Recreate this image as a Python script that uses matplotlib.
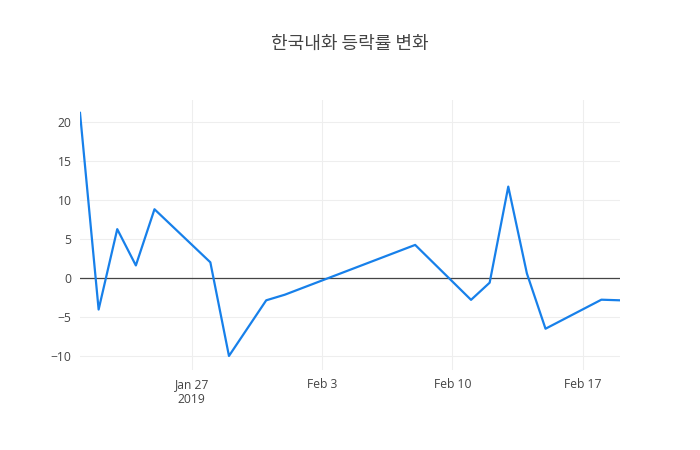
import matplotlib
matplotlib.use('Agg')
import matplotlib.pyplot as plt
import numpy as np

# 데이터
dates = ['2019-01-21', '2019-01-22', '2019-01-23', '2019-01-24', '2019-01-25',
         '2019-01-28', '2019-01-29', '2019-01-31', '2019-02-01',
         '2019-02-08', '2019-02-11', '2019-02-12', '2019-02-13', '2019-02-14',
         '2019-02-15', '2019-02-18', '2019-02-19']
rates = [21.2, -4.0, 6.3, 1.65, 8.85,
         2.05, -9.95, -2.82, -2.1,
         4.28, -2.76, -0.56, 11.75, 0.62,
         -6.46, -2.74, -2.82]
tick_dates = ['2019-01-27', '2019-02-03', '2019-02-10', '2019-02-17']
tick_labels = ['Jan 27\n2019', 'Feb 3', 'Feb 10', 'Feb 17']
y_ticks = [-10, -5, 0, 5, 10, 15, 20]

x = np.array(dates, dtype='datetime64[D]')
xt = np.array(tick_dates, dtype='datetime64[D]')

fig = plt.figure(figsize=(7, 4.5), dpi=100)
ax = fig.add_axes([80 / 700, 80 / 450, 540 / 700, 270 / 450])

# 등락률 선 + 0 기준선
ax.plot(x, rates, color='#1780ea', linewidth=1.6, zorder=3)
ax.axhline(0, color='#444444', linewidth=0.9, zorder=2)

ax.set_xlim(x[0], x[-1])
ax.set_ylim(-11.75, 22.85)
ax.set_xticks(xt)
ax.set_xticklabels(tick_labels)
ax.set_yticks(y_ticks)
ax.grid(True, color='#eeeeee', linewidth=0.8)
ax.set_axisbelow(True)
for s in ax.spines.values():
    s.set_visible(False)
ax.tick_params(length=0, labelsize=8.7, colors='#444444', pad=6)
for lbl in ax.get_xticklabels():
    lbl.set_fontfamily(['Open Sans', 'DejaVu Sans'])
for lbl in ax.get_yticklabels():
    lbl.set_fontfamily(['Open Sans', 'DejaVu Sans'])

fig.text(0.5, 1 - 44 / 450, '한국내화 등락률 변화', ha='center', va='center',
         fontsize=13, color='#444444', family=['Noto Sans CJK KR', 'DejaVu Sans'])

fig.savefig('out.png', dpi=100)
